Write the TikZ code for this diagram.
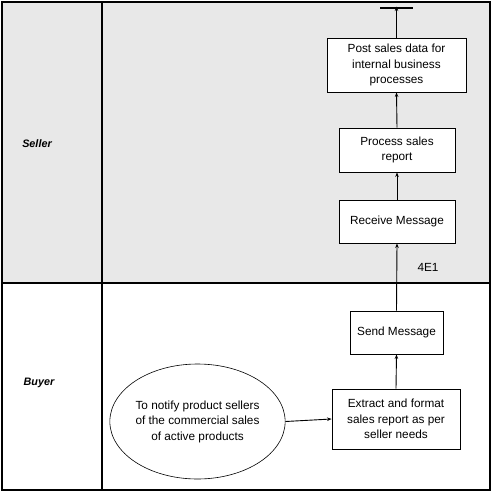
\documentclass[tikz,border=0pt]{standalone}
\usepackage{fontspec}
\setmainfont{Liberation Sans}
\usetikzlibrary{arrows.meta, shapes.geometric}
\definecolor{laneGrey}{RGB}{232,232,232}

\begin{document}
\begin{tikzpicture}[x=1pt, y=-1pt,
      font=\fontsize{11.8}{15.5}\selectfont,
      task/.style={rectangle, draw, fill=white, line width=0.9pt, align=center, inner sep=0pt},
      goal/.style={ellipse, draw, fill=white, line width=0.6pt, align=center, inner sep=0pt, minimum width=163pt, minimum height=115pt},
      lane/.style={font=\fontsize{10.8}{12}\selectfont\bfseries\itshape},
      flow/.style={-{Stealth[length=4.5pt, width=3.5pt]}, line width=0.9pt}]
      \useasboundingbox (0,0) rectangle (495,496);

      % Lanes
      \fill[laneGrey] (2,2) rectangle (490,283);
      \draw[line width=1.2pt] (2,2) rectangle (490,490);
      \draw[line width=1.2pt] (2,283) -- (490,283);
      \draw[line width=1.2pt] (102,2) -- (102,490);
      \node[lane] (seller) at (37,144) {Seller};
      \node[lane] (buyer) at (39,383) {Buyer};

      % Blocks
      \node[task, minimum width=139pt, minimum height=54pt] (post) at (396.5,65) {Post sales data for\\internal business\\processes};
      \node[task, minimum width=116pt, minimum height=44pt] (process) at (397,150) {Process sales\\report};
      \node[task, minimum width=116pt, minimum height=43pt] (receive) at (397,221.5) {Receive Message};
      \node[task, minimum width=93pt, minimum height=43pt] (send) at (396.5,332.5) {Send Message};
      \node[task, minimum width=128pt, minimum height=60pt] (extract) at (396,419) {Extract and format\\sales report as per\\seller needs};
      \node[goal] (notify) at (197.5,421.5) {To notify product sellers\\of the commercial sales\\of active products};

      % End bar
      \coordinate (stop) at (396.5,8);
      \draw[line width=2pt] (380,8) -- (413,8);

      % Arrows
      \draw[flow] (notify.east) -- (extract.west);
      \draw[flow] (extract.north) -- (send.south);
      \draw[flow] (send.north) -- (receive.south);
      \draw[flow] (receive.north) -- (process.south);
      \draw[flow] (process.north) -- (post.south);
      \draw[flow] (post.north) -- ([yshift=1.5pt]stop);

      % Labels
      \node (msgid) at (428,267) {4E1};
    \end{tikzpicture}
\end{document}
